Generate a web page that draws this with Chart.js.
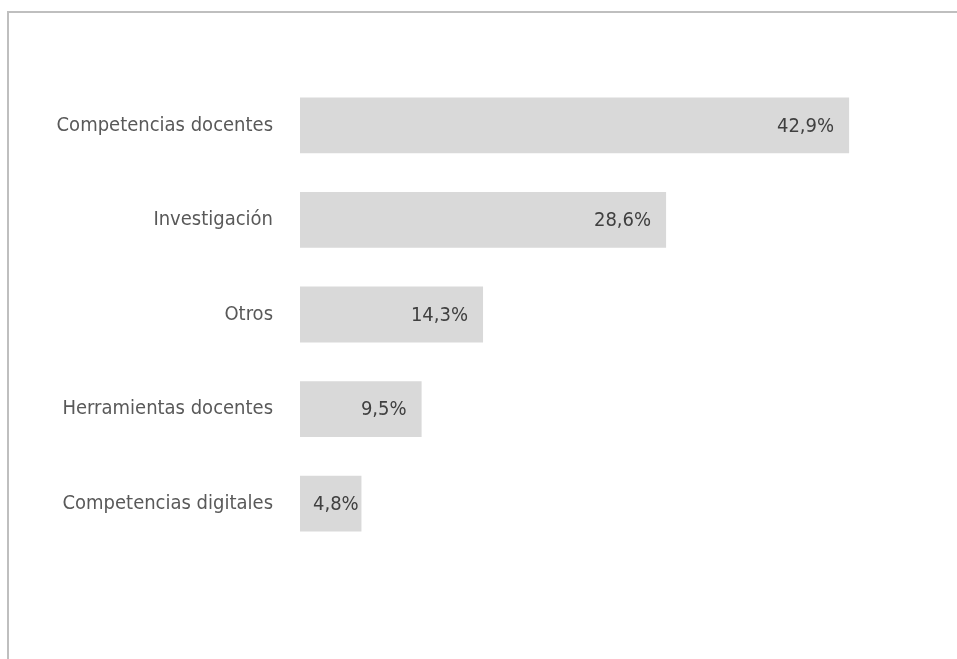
<!DOCTYPE html>
<html lang="es">
<head>
  <meta charset="UTF-8">
  <title>Temas de formación</title>
  <script src="https://cdn.jsdelivr.net/npm/chart.js"></script>
  <style>
    body {
      margin: 0;
      background-color: #ffffff;
      overflow: hidden;
    }

    .frame {
      position: absolute;
      left: 7px;
      top: 11px;
      width: 980px;
      height: 700px;
      border-left: 2px solid #bfbfbf;
      border-top: 2px solid #bfbfbf;
    }

    #temasChart {
      position: absolute;
      left: 0;
      top: 0;
    }
  </style>
</head>
<body>
  <div class="frame"></div>
  <canvas id="temasChart" width="957" height="659"></canvas>

  <script>
    const categories = [
      'Competencias docentes',
      'Investigación',
      'Otros',
      'Herramientas docentes',
      'Competencias digitales'
    ];
    const percentages = [42.9, 28.6, 14.3, 9.5, 4.8];

    const FONT = '"Liberation Sans Narrow", "DejaVu Sans Condensed", "Roboto", sans-serif';

    // value labels drawn inside the end of each bar, e.g. "42,9%"
    const valueLabels = {
      id: 'valueLabels',
      afterDatasetsDraw(chart) {
        const ctx = chart.ctx;
        const meta = chart.getDatasetMeta(0);
        ctx.save();
        ctx.font = '20px ' + FONT;
        ctx.fillStyle = '#404040';
        ctx.textAlign = 'left';
        ctx.textBaseline = 'middle';
        meta.data.forEach((bar, i) => {
          const text = percentages[i].toFixed(1).replace('.', ',') + '%';
          const w = ctx.measureText(text).width;
          let x = bar.x - 15 - w;
          if (x < bar.base + 13) x = bar.base + 13;
          ctx.fillText(text, x, bar.y + 1);
        });
        ctx.restore();
      }
    };

    const ctx = document.getElementById('temasChart').getContext('2d');
    new Chart(ctx, {
      type: 'bar',
      data: {
        labels: categories,
        datasets: [{
          data: percentages,
          backgroundColor: '#d9d9d9',
          borderWidth: 0,
          barPercentage: 0.59,
          categoryPercentage: 1
        }]
      },
      options: {
        indexAxis: 'y',
        responsive: false,
        animation: false,
        layout: {
          padding: { top: 78, bottom: 108, left: 0, right: 17 }
        },
        plugins: {
          legend: { display: false },
          tooltip: { enabled: false }
        },
        scales: {
          x: {
            display: false,
            min: 0,
            max: 50
          },
          y: {
            border: { display: false },
            grid: { display: false, drawTicks: false },
            ticks: {
              color: '#595959',
              padding: 27,
              font: { family: FONT, size: 20 }
            },
            afterFit(scale) {
              scale.width = 300;
            }
          }
        }
      },
      plugins: [valueLabels]
    });
  </script>
</body>
</html>
